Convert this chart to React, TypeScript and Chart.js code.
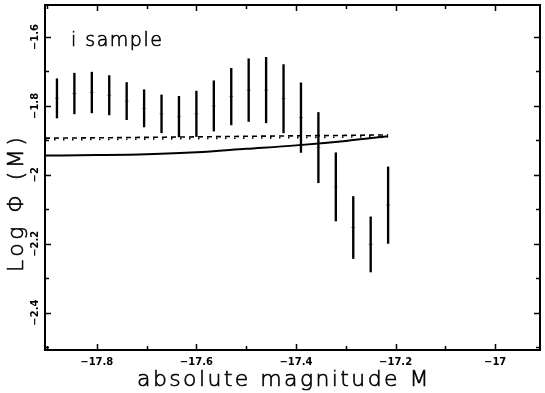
import React, { useEffect, useRef } from 'react';
import { Chart, registerables } from 'chart.js';

Chart.register(...registerables);

// absolute magnitude bins
const magnitudes = [
  -17.88, -17.845, -17.81, -17.775, -17.74, -17.705, -17.67, -17.635, -17.6, -17.565,
  -17.53, -17.495, -17.46, -17.425, -17.39, -17.355, -17.32, -17.285, -17.25, -17.215,
];
// log phi values (bar centres) and half-lengths of the error bars
const logPhi = [
  -1.778, -1.764, -1.761, -1.769, -1.786, -1.807, -1.823, -1.831, -1.823, -1.800,
  -1.773, -1.754, -1.754, -1.779, -1.834, -1.921, -2.035, -2.153, -2.202, -2.088,
];
const logPhiErr = [
  0.057, 0.059, 0.059, 0.057, 0.054, 0.054, 0.055, 0.059, 0.066, 0.073,
  0.082, 0.091, 0.095, 0.099, 0.101, 0.102, 0.099, 0.090, 0.080, 0.111,
];
// model curves
const modelMag = [-17.904, -17.8, -17.7, -17.6, -17.5, -17.4, -17.3, -17.215];
const modelSolid = [-1.944, -1.9425, -1.940, -1.9345, -1.9245, -1.9145, -1.9015, -1.888];
const modelDashed = [-1.8935, -1.8925, -1.8912, -1.8898, -1.8882, -1.8868, -1.8855, -1.8840];
const modelDotted = [-1.8985, -1.8975, -1.8962, -1.8948, -1.8935, -1.8920, -1.8905, -1.8890];

const xMajorTicks = [-17.8, -17.6, -17.4, -17.2, -17];
const xMinorTicks = [-17.9, -17.7, -17.5, -17.3, -17.1];
const yMajorTicks = [-1.6, -1.8, -2, -2.2, -2.4];
const yMinorTicks = [-1.7, -1.9, -2.1, -2.3, -2.5];

const xTitle = 'absolute magnitude M';
const yTitle = 'Log Φ (M)';
const sampleLabel = 'i sample';

const fmt = (v: number) => String(v).replace('-', '\u2212');

const drawText = (ctx: any, text: string, x: number, y: number) => {
  ctx.fillText(text, x, y);
  ctx.strokeText(text, x, y);
};

const framePlugin = {
  id: 'framePlugin',
  afterDraw(chart: any) {
    const { ctx, chartArea: a } = chart;
    const xs = chart.scales.x;
    const ys = chart.scales.y;
    ctx.save();
    ctx.strokeStyle = '#000';
    ctx.lineWidth = 2;
    ctx.strokeRect(a.left, a.top, a.right - a.left, a.bottom - a.top);
    ctx.lineWidth = 1.5;
    ctx.beginPath();
    const xt = (v: number, len: number) => {
      const p = Math.round(xs.getPixelForValue(v)) + 0.5;
      ctx.moveTo(p, a.bottom);
      ctx.lineTo(p, a.bottom - len);
      ctx.moveTo(p, a.top);
      ctx.lineTo(p, a.top + len);
    };
    const yt = (v: number, len: number) => {
      const p = Math.round(ys.getPixelForValue(v)) + 0.5;
      ctx.moveTo(a.left, p);
      ctx.lineTo(a.left + len, p);
      ctx.moveTo(a.right, p);
      ctx.lineTo(a.right - len, p);
    };
    xMajorTicks.forEach((v) => xt(v, 6));
    xMinorTicks.forEach((v) => xt(v, 4));
    yMajorTicks.forEach((v) => yt(v, 6));
    yMinorTicks.forEach((v) => yt(v, 4));
    ctx.stroke();

    ctx.fillStyle = '#000';
    // y tick labels (rotated)
    ctx.font = 'bold 10px "DejaVu Sans"';
    ctx.textAlign = 'center';
    ctx.textBaseline = 'middle';
    yMajorTicks.forEach((v) => {
      const p = ys.getPixelForValue(v);
      ctx.save();
      ctx.translate(35, p);
      ctx.rotate(-Math.PI / 2);
      ctx.fillText(fmt(v), 0, 0);
      ctx.restore();
    });

    // axis titles
    ctx.lineWidth = 0.6;
    ctx.font = '200 22px "DejaVu Sans"';
    ctx.textAlign = 'left';
    ctx.textBaseline = 'alphabetic';
    ctx.letterSpacing = '2.4px';
    drawText(ctx, xTitle, 137, 386);

    ctx.save();
    ctx.translate(23, 272);
    ctx.rotate(-Math.PI / 2);
    ctx.letterSpacing = '3.4px';
    drawText(ctx, yTitle, 0, 0);
    ctx.restore();

    ctx.font = '200 19px "DejaVu Sans"';
    ctx.letterSpacing = '1.5px';
    drawText(ctx, sampleLabel, 71, 46);
    ctx.restore();
  },
};

export default function App() {
  const ref = useRef<HTMLCanvasElement | null>(null);

  useEffect(() => {
    document.body.style.margin = '0';
    const canvas = ref.current;
    if (!canvas) return;
    const chart = new Chart(canvas, {
      type: 'line',
      data: {
        datasets: [
          {
            type: 'bar',
            label: 'error bars',
            data: magnitudes.map((m, i) => ({ x: m, y: [logPhi[i] - logPhiErr[i], logPhi[i] + logPhiErr[i]] })) as any,
            backgroundColor: '#000',
            borderWidth: 0,
            barThickness: 1.7,
            grouped: false,
          } as any,
          {
            type: 'scatter',
            label: 'centres',
            data: magnitudes.map((m, i) => ({ x: m, y: logPhi[i] })),
            pointStyle: 'line',
            pointRadius: 2,
            borderColor: '#888',
            borderWidth: 1,
            showLine: false,
          } as any,
          {
            label: 'model solid',
            data: modelMag.map((m, i) => ({ x: m, y: modelSolid[i] })),
            borderColor: '#000',
            borderWidth: 2,
            pointRadius: 0,
            cubicInterpolationMode: 'monotone',
            fill: false,
          },
          {
            label: 'model dashed',
            data: modelMag.map((m, i) => ({ x: m, y: modelDashed[i] })),
            borderColor: '#000',
            borderWidth: 1.6,
            borderDash: [5, 4],
            pointRadius: 0,
            cubicInterpolationMode: 'monotone',
            fill: false,
          },
          {
            label: 'model dotted',
            data: modelMag.map((m, i) => ({ x: m, y: modelDotted[i] })),
            borderColor: '#000',
            borderWidth: 1.6,
            borderDash: [1.5, 7.5],
            pointRadius: 0,
            cubicInterpolationMode: 'monotone',
            fill: false,
          },
        ],
      },
      options: {
        animation: false,
        responsive: false,
        maintainAspectRatio: false,
        devicePixelRatio: 1,
        layout: { padding: { top: 2, right: 5, left: 0, bottom: 0 } },
        plugins: {
          legend: { display: false },
          tooltip: { enabled: false },
          title: { display: false },
        },
        scales: {
          x: {
            type: 'linear',
            min: -17.904,
            max: -16.91,
            offset: false,
            grid: { display: false, drawTicks: false },
            border: { display: false },
            afterBuildTicks: (scale: any) => {
              scale.ticks = xMajorTicks.map((v) => ({ value: v }));
            },
            afterFit: (scale: any) => {
              scale.height = 43;
            },
            ticks: {
              autoSkip: false,
              maxRotation: 0,
              minRotation: 0,
              padding: 6,
              color: '#000',
              font: { family: '"DejaVu Sans"', size: 10, weight: 'bold' },
              callback: (v: any) => fmt(Number(v)),
            },
          },
          y: {
            type: 'linear',
            min: -2.5085,
            max: -1.507,
            grid: { display: false, drawTicks: false },
            border: { display: false },
            ticks: { display: false },
            afterFit: (scale: any) => {
              scale.width = 45;
            },
          },
        },
      } as any,
      plugins: [framePlugin],
    });
    return () => chart.destroy();
  }, []);

  return (
    <div style={{ width: 545, height: 393, background: '#fff' }}>
      <canvas ref={ref} width={545} height={393} style={{ display: 'block' }} />
    </div>
  );
}
